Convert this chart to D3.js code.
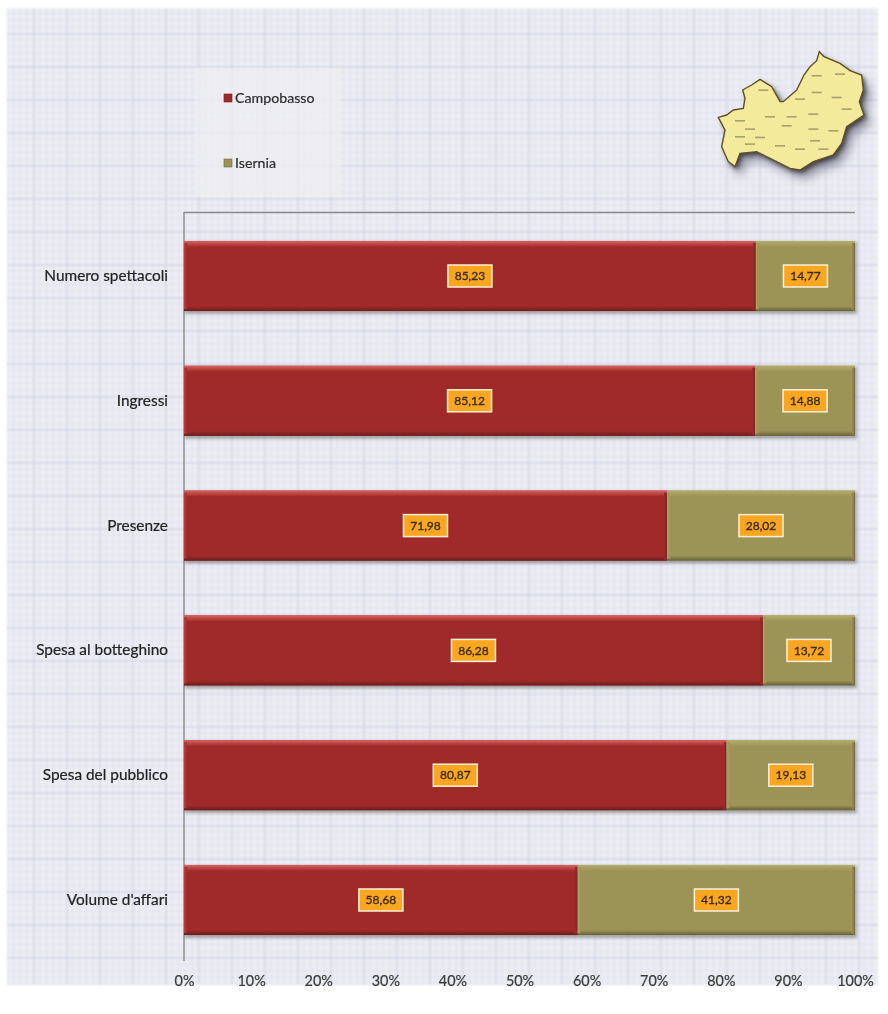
<!DOCTYPE html>
<html>
<head>
<meta charset="utf-8">
<script src="https://cdn.jsdelivr.net/npm/d3@7"></script>
<style>
html,body{margin:0;padding:0;background:#fff;}
svg{display:block;}
text{font-family:Lato,"Open Sans",sans-serif;}
</style>
</head>
<body>
<svg id="c" width="888" height="1014"></svg>
<script>
const categories = ["Numero spettacoli","Ingressi","Presenze","Spesa al botteghino","Spesa del pubblico","Volume d'affari"];
const campobasso = [85.23,85.12,71.98,86.28,80.87,58.68];
const isernia = [14.77,14.88,28.02,13.72,19.13,41.32];
const seriesNames = ["Campobasso","Isernia"];
const seriesColors = ["#a02c2a","#9c9456"];
const xTicks = [0,10,20,30,40,50,60,70,80,90,100];
// outline of the regional map, traced in the picture
const mapOutline = [[55,262],[80,255],[100,240],[130,235],[135,205],[128,180],[155,165],[180,148],[215,170],[240,215],[250,215],[290,180],[312,135],[330,110],[350,92],[358,65],[372,80],[420,100],[450,122],[485,135],[490,180],[478,215],[492,255],[440,290],[425,340],[400,375],[340,395],[300,420],[270,415],[210,385],[170,365],[120,370],[105,410],[85,395],[65,350],[75,300]];
const mapMarks = [[190,178],[120,270],[150,295],[210,258],[275,258],[350,135],[420,130],[300,205],[440,235],[340,250],[260,285],[180,320],[120,318],[340,295],[400,300],[345,330],[300,355],[240,345],[370,355],[150,340],[350,185],[410,200]];

const fmt = v => d3.format(".2f")(v).replace(".",",");
const svg = d3.select("#c");
const defs = svg.append("defs");

const soft = defs.append("filter").attr("id","soft").attr("x","-2%").attr("y","-2%").attr("width","104%").attr("height","104%");
soft.append("feGaussianBlur").attr("stdDeviation",0.55);
const shadow = defs.append("filter").attr("id","shadow").attr("x","-20%").attr("y","-20%").attr("width","150%").attr("height","150%");
shadow.append("feGaussianBlur").attr("stdDeviation",5);
const shadowTight = defs.append("filter").attr("id","shadowTight").attr("x","-20%").attr("y","-20%").attr("width","150%").attr("height","150%");
shadowTight.append("feGaussianBlur").attr("stdDeviation",2);
const barShadow = defs.append("filter").attr("id","barShadow").attr("x","-2%").attr("y","-20%").attr("width","104%").attr("height","140%");
barShadow.append("feGaussianBlur").attr("stdDeviation",1.6);
const panelEdge = defs.append("filter").attr("id","panelEdge").attr("x","-2%").attr("y","-2%").attr("width","104%").attr("height","104%");
panelEdge.append("feGaussianBlur").attr("stdDeviation",1.3);

// squared paper background
const pat = defs.append("pattern").attr("id","paper").attr("patternUnits","userSpaceOnUse").attr("width",33).attr("height",33);
pat.append("rect").attr("width",33).attr("height",33).attr("fill","#ecedf4");
d3.range(0,33,6.6).forEach((p,i)=>{
  const col = i===0 ? "#d3d5e6" : "#dfe0ec";
  pat.append("rect").attr("x",p).attr("y",0).attr("width",i===0?1.6:1).attr("height",33).attr("fill",col);
  pat.append("rect").attr("x",0).attr("y",p).attr("width",33).attr("height",i===0?1.6:1).attr("fill",col);
});

// bevel gradients
function grad(id,horizontal,a,b){
  const g = defs.append("linearGradient").attr("id",id).attr("x1",0).attr("y1",0).attr("x2",horizontal?1:0).attr("y2",horizontal?0:1);
  g.append("stop").attr("offset",0).attr("stop-color",a);
  g.append("stop").attr("offset",1).attr("stop-color",b);
}
const bevelTop = ["#d9625e","#b5ad6c"], bevelBottom = ["#6e1c1c","#66603a"], bevelRight = ["#7e2422","#6f6a3e"], bevelLeft = ["#b8423e","#aaa266"];
[0,1].forEach(s=>{
  grad("top"+s,false,bevelTop[s],seriesColors[s]);
  grad("bottom"+s,false,seriesColors[s],bevelBottom[s]);
  grad("right"+s,true,seriesColors[s],bevelRight[s]);
  grad("left"+s,true,bevelLeft[s],seriesColors[s]);
});

svg.append("rect").attr("width",888).attr("height",1014).attr("fill","#ffffff");
svg.append("rect").attr("x",7).attr("y",8).attr("width",871).attr("height",977).attr("fill","url(#paper)").attr("filter","url(#panelEdge)");
const root = svg.append("g").attr("filter","url(#soft)");

// legend box
root.append("rect").attr("x",195).attr("y",68).attr("width",146).attr("height",129).attr("fill","#eeeef1").attr("opacity",0.7);

const x = d3.scaleLinear().domain([0,100]).range([184,855]);
const y = d3.scaleBand().domain(categories).range([213.6,962.4]).paddingInner(0.4385).paddingOuter(0.2193);

// legend
const legendY = d3.scalePoint().domain(seriesNames).range([98,163]);
const leg = root.append("g").selectAll("g").data(seriesNames).join("g").attr("transform",d=>`translate(224,${legendY(d)})`);
leg.append("rect").attr("x",0).attr("y",-4).attr("width",8).attr("height",8).attr("fill",(d,i)=>seriesColors[i]).attr("stroke",(d,i)=>i?"#6c6638":"#7a1c1c").attr("stroke-width",0.6);
leg.append("text").attr("x",11).attr("y",0).attr("dy","0.35em").attr("font-size",14.2).attr("fill","#2a2a2a").attr("stroke","#2a2a2a").attr("stroke-width",0.2).text(d=>d);

// map
const mx = d3.scaleLinear().domain([0,564]).range([700,888]);
const my = d3.scaleLinear().domain([0,510]).range([30,200]);
const mapLine = d3.line().x(d=>mx(d[0])).y(d=>my(d[1])).curve(d3.curveLinearClosed);
const mapG = svg.append("g");
mapG.append("path").attr("d",mapLine(mapOutline)).attr("transform","translate(7,9)").attr("fill","#56566c").attr("opacity",0.55).attr("filter","url(#shadow)");
mapG.append("path").attr("d",mapLine(mapOutline)).attr("transform","translate(2.5,3)").attr("fill","#2e2a2a").attr("opacity",0.8).attr("filter","url(#shadowTight)");
const mapFace = mapG.append("g").attr("filter","url(#soft)");
mapFace.append("path").attr("d",mapLine(mapOutline)).attr("fill","#f3ea9c").attr("stroke","#5e4f2a").attr("stroke-width",1.4);
mapFace.selectAll("rect").data(mapMarks).join("rect").attr("x",d=>mx(d[0])-5).attr("y",d=>my(d[1])).attr("width",10).attr("height",1.6).attr("fill","#a8a268");

// axis frame
const yAxis = root.append("g").attr("transform","translate(184,0)").call(d3.axisLeft(y).tickSize(0).tickPadding(16));
yAxis.select(".domain").attr("d","M0,212V961").attr("stroke","#8a8a8a").attr("stroke-width",1.4).attr("fill","none");
yAxis.selectAll("text").attr("font-size",15.4).attr("dy","0.32em").attr("fill","#222").attr("stroke","#222").attr("stroke-width",0.2).attr("font-family","Lato,'Open Sans',sans-serif");
root.append("line").attr("x1",x(0)).attr("x2",x(100)).attr("y1",212.5).attr("y2",212.5).attr("stroke","#8a8a8a").attr("stroke-width",1.4);

const xAxis = root.append("g").attr("transform","translate(0,961)").call(d3.axisBottom(x).tickValues(xTicks).tickFormat(d=>d+"%").tickSize(0).tickPadding(15));
xAxis.select(".domain").remove();
xAxis.selectAll("text").attr("font-size",14.4).attr("fill","#3a3a3a").attr("stroke","#3a3a3a").attr("stroke-width",0.2).attr("font-family","Lato,'Open Sans',sans-serif");

// stacked bars
const rows = categories.map((c,i)=>({c,segs:[
  {s:0,x0:0,x1:campobasso[i],v:campobasso[i]},
  {s:1,x0:campobasso[i],x1:campobasso[i]+isernia[i],v:isernia[i]}
]}));
const rowG = root.append("g").selectAll("g").data(rows).join("g").attr("transform",d=>`translate(0,${y(d.c)})`);
const bw = y.bandwidth();
rowG.append("rect").attr("x",x(0)+1).attr("y",1).attr("width",x(100)-x(0)+1).attr("height",bw+2).attr("fill","#555").attr("opacity",0.45).attr("filter","url(#barShadow)");
const segs = rowG.selectAll("g").data(d=>d.segs).join("g");
const w = d=>x(d.x1)-x(d.x0);
segs.append("rect").attr("x",d=>x(d.x0)).attr("y",0).attr("width",w).attr("height",bw).attr("fill",d=>seriesColors[d.s]);
segs.append("rect").attr("x",d=>x(d.x0)).attr("y",0).attr("width",w).attr("height",6).attr("fill",d=>`url(#top${d.s})`);
segs.append("rect").attr("x",d=>x(d.x0)).attr("y",bw-5).attr("width",w).attr("height",5).attr("fill",d=>`url(#bottom${d.s})`);
segs.append("rect").attr("x",d=>x(d.x1)-3).attr("y",2).attr("width",3).attr("height",bw-3).attr("fill",d=>`url(#right${d.s})`);
segs.append("rect").attr("x",d=>x(d.x0)).attr("y",2).attr("width",3).attr("height",bw-4).attr("fill",d=>`url(#left${d.s})`);

// value labels
const lab = segs.append("g").attr("transform",d=>`translate(${x((d.x0+d.x1)/2)},${bw/2})`);
lab.append("rect").attr("x",-22).attr("y",-11).attr("width",44).attr("height",22).attr("fill","#f9a623").attr("stroke","#fdf1d8").attr("stroke-width",1.5);
lab.append("text").attr("text-anchor","middle").attr("dy","0.35em").attr("font-size",12).attr("fill","#3e2c10").attr("stroke","#3e2c10").attr("stroke-width",0.35).text(d=>fmt(d.v));
</script>
</body>
</html>
